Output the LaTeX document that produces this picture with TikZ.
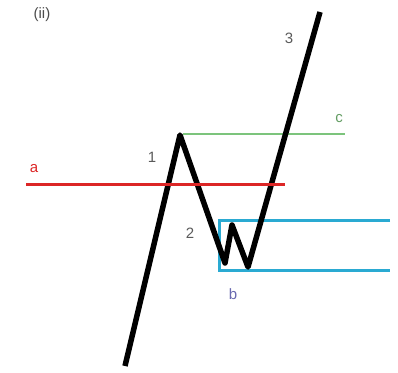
\documentclass[tikz,border=0pt]{standalone}
\usepackage{fontspec}
\setsansfont{Liberation Sans}
\usetikzlibrary{positioning}
\definecolor{levelred}{HTML}{DC2626}
\definecolor{levelgreen}{HTML}{7CC47C}
\definecolor{zoneblue}{HTML}{2AAAD2}
\definecolor{labgray}{HTML}{5A5A5A}
\definecolor{labpurple}{HTML}{6A6AB0}

\begin{document}
\begin{tikzpicture}[
  x=1pt, y=-1pt,
  every node/.style={font=\sffamily\fontsize{15}{18}\selectfont},
  wave/.style={line width=5.5pt, draw=black, line join=round},
  lvl/.style={line width=3pt},
  tag/.style={text=labgray, inner sep=1pt}
]
\useasboundingbox (0,0) rectangle (398,372);

% price swing
\coordinate (w0) at (125,366);
\coordinate (w1) at (180,135);
\coordinate (w2) at (225,263);
\coordinate (w3) at (232,225);
\coordinate (w4) at (248,267);
\coordinate (w5) at (320,12);

% levels
\coordinate (a0) at (26,184);
\coordinate (a1) at (285,184);
\coordinate (c0) at (183,134);
\coordinate (c1) at (345,134);
\coordinate (b0) at (390,220);
\coordinate (b1) at (219,220);
\coordinate (b2) at (219,270);
\coordinate (b3) at (390,270);

\draw[levelgreen, line width=1.2pt] (c0) -- (c1);
\draw[zoneblue, lvl] (b0) -- (b1) -- (b2) -- (b3);
\draw[wave] (w0) -- (w1) -- (w2) -- (w3) -- (w4) -- (w5);
\draw[levelred, lvl] (a0) -- (a1);

\node[tag, text=black!70] (title) at (42,15) {(ii)};
\node[tag, text=levelred] (la) at (34,169) {a};
\node[tag] (l1) at (152,157) {1};
\node[tag, text=levelgreen!80!black] (lc) at (339,119) {c};
\node[tag] (l2) at (190,233) {2};
\node[tag, text=labpurple] (lb) at (233,294) {b};
\node[tag] (l3) at (289,38) {3};
\end{tikzpicture}
\end{document}
